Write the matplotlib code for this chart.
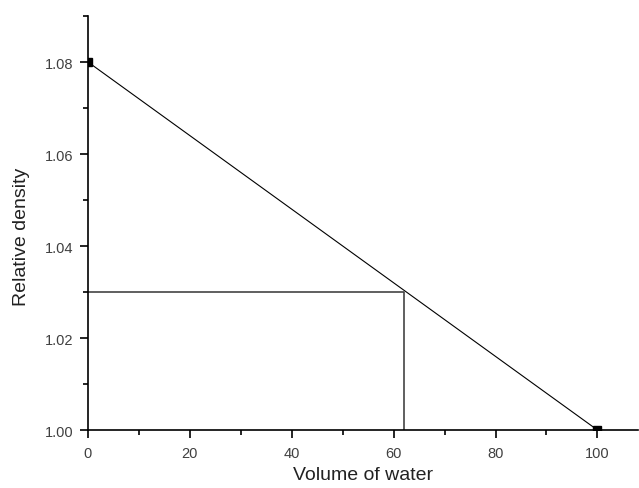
import numpy as np
import matplotlib.pyplot as plt
from matplotlib.ticker import MultipleLocator

plt.rcParams['font.family'] = ['Liberation Sans', 'DejaVu Sans']

# end points of the calibration line
volumen = [0, 100]
densidad = [1.08, 1.00]

# reading taken off the line
lectura_x = 62
lectura_y = 1.03

fig = plt.figure(figsize=(6.39, 4.89), dpi=100)
ax = fig.add_axes([0.1377, 0.1186, 0.861, 0.8466])

ax.plot(volumen, densidad, color='black', lw=0.8, marker='s', ms=6,
        markerfacecolor='black', markeredgecolor='black')
ax.plot([0, lectura_x, lectura_x], [lectura_y, lectura_y, 1.00],
        color='#444444', lw=1.2)

ax.set_xlim(0, 108)
ax.set_ylim(1.00, 1.09)

ax.spines['top'].set_visible(False)
ax.spines['right'].set_visible(False)
for s in ('left', 'bottom'):
    ax.spines[s].set_linewidth(1.2)

ax.xaxis.set_major_locator(MultipleLocator(20))
ax.xaxis.set_minor_locator(MultipleLocator(10))
ax.yaxis.set_minor_locator(MultipleLocator(0.01))
ax.set_yticks([1.00, 1.02, 1.04, 1.06, 1.08])
ax.yaxis.set_major_formatter(plt.FormatStrFormatter('%.2f'))

ax.tick_params(which='major', direction='out', length=5.5, width=1.2,
               labelsize=10.5, labelcolor='#404040')
ax.tick_params(which='minor', direction='out', length=3.5, width=1.2)
ax.tick_params(axis='x', which='major', pad=6)
ax.tick_params(axis='y', which='major', pad=5)

ax.set_xlabel('Volume of water', fontsize=14, color='#222222', labelpad=4)
ax.set_ylabel('Relative density', fontsize=14, color='#222222', labelpad=8)
ax.yaxis.set_label_coords(-0.105, 0.47)

fig.savefig('out.png', dpi=100)
